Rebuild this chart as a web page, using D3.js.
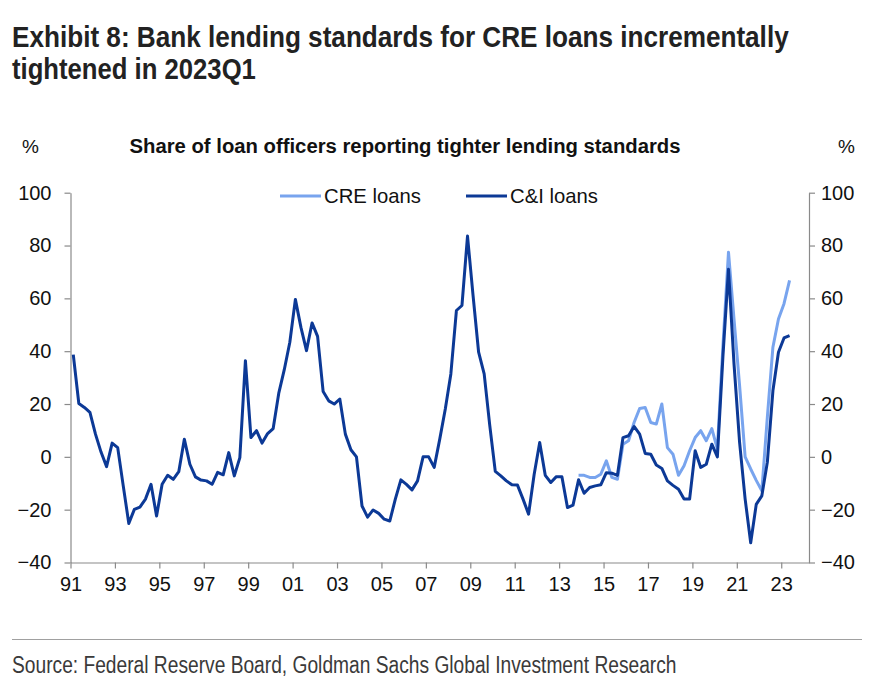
<!DOCTYPE html>
<html>
<head>
<meta charset="utf-8">
<script src="https://cdn.jsdelivr.net/npm/d3@7"></script>
<style>
  body { margin: 0; background: #fff; }
  text { font-family: "Liberation Sans", Arial, sans-serif; }
</style>
</head>
<body>
<svg id="chart" width="872" height="696"></svg>
<script>
// quarterly, 1991Q1 .. 2023Q2, net % of loan officers tightening
const ciLoans = [
  38.7, 20.2, 18.7, 16.8, 8.6, 1.8, -3.7, 5.2, 3.5, -11,
  -25.2, -19.9, -19, -16, -10.4, -22.4, -10.4, -7, -8.5, -5.6,
  6.7, -2.8, -7.6, -8.8, -9.1, -10.4, -5.9, -6.8, 1.6, -7.2,
  -0.3, 36.4, 7.3, 9.9, 5.2, 8.8, 10.7, 24, 33, 43.4,
  59.6, 49, 40.2, 50.7, 45.6, 24.7, 21.2, 20, 21.9, 8.6,
  2.7, 0, -18.6, -22.8, -20.1, -21.4, -23.6, -24.3, -16, -8.7,
  -10.4, -12.5, -9.1, 0, 0, -4, 6.7, 18.1, 31.4, 55.4,
  57.3, 83.6, 61, 39.6, 31.4, 12, -5.5, -7.2, -9.1, -10.6,
  -10.7, -16, -21.7, -6.7, 5.4, -7, -9.7, -7.5, -7.5, -19.2,
  -18.3, -8.7, -13.8, -11.6, -11, -10.6, -6, -6.2, -7, 7.3,
  8, 11.5, 8.6, 1.3, 1, -3.1, -4.4, -9.1, -10.8, -12.3,
  -16, -16, 2.3, -4, -2.8, 4.8, 0, 38, 71, 35,
  5.5, -16, -32.5, -18, -14.8, -2, 25, 39.6, 45, 45.9
];
// starts 2013Q4
const creStartIndex = 91;
const creLoans = [
  -7, -7, -7.8, -7.8, -6.6, -1.5, -7.8, -8.5, 4.8, 6.1,
  13, 18.3, 18.7, 13, 12.4, 20, 3.5, 1, -7, -3.4,
  2.3, 7.3, 9.9, 6.1, 10.7, 2.9, 42, 77.5, 52, 27,
  0, -4.6, -8.9, -12.9, 15, 41.5, 52.2, 58, 66.8
];
const yTicks = [-40, -20, 0, 20, 40, 60, 80, 100];
const xTicks = d3.range(1991, 2024, 2);
const seriesNames = ["CRE loans", "C&I loans"];
const seriesColors = ["#78a4ee", "#0c3996"];

const quarterTime = i => 1991 + i * 0.25 + 0.125;

const svg = d3.select("#chart");
const axisColor = "#8a8a8a";

const x = d3.scaleLinear().domain([1991, 2024.25]).range([70.5, 809]);
const y = d3.scaleLinear().domain([-40, 100]).range([562.5, 192.7]);

// squeeze a text horizontally to a width (no narrow font installed)
function fitText(sel, px, py, width) {
  const w = sel.node().getComputedTextLength();
  sel.attr("transform", `translate(${px},${py}) scale(${Math.min(1, width / w)},1)`);
  return sel;
}

// title
fitText(svg.append("text")
  .attr("font-size", 29).attr("font-weight", "bold").attr("fill", "#222")
  .text("Exhibit 8: Bank lending standards for CRE loans incrementally"), 12, 46.5, 777);
fitText(svg.append("text")
  .attr("font-size", 29).attr("font-weight", "bold").attr("fill", "#222")
  .text("tightened in 2023Q1"), 12, 78.5, 244);

// unit labels and subtitle
svg.append("text").attr("x", 22).attr("y", 153)
  .attr("font-size", 19).attr("fill", "#111").text("%");
svg.append("text").attr("x", 838).attr("y", 153)
  .attr("font-size", 19).attr("fill", "#111").text("%");
svg.append("text").attr("x", 405).attr("y", 153)
  .attr("text-anchor", "middle")
  .attr("font-size", 20.3).attr("font-weight", "bold").attr("fill", "#111")
  .text("Share of loan officers reporting tighter lending standards");

// axes
function styleAxis(g) {
  g.selectAll("path, line").attr("stroke", axisColor).attr("stroke-width", 1.2);
  g.selectAll("text").attr("font-family", null).attr("font-size", 20).attr("fill", "#111");
}

svg.append("g").attr("transform", "translate(70.5,0)")
  .call(d3.axisLeft(y).tickValues(yTicks).tickSize(6).tickSizeOuter(0).tickPadding(13))
  .call(styleAxis);

svg.append("g").attr("transform", "translate(809,0)")
  .call(d3.axisRight(y).tickValues(yTicks).tickSize(6).tickSizeOuter(0).tickPadding(6))
  .call(styleAxis);

svg.append("g").attr("transform", "translate(0,562.5)")
  .call(d3.axisBottom(x).tickValues(xTicks).tickSize(6).tickSizeOuter(0).tickPadding(8)
    .tickFormat(d => String(d % 100).padStart(2, "0")))
  .call(styleAxis);

// lines
const line = d3.line().x(d => x(d.t)).y(d => y(d.v));
const ciData = ciLoans.map((v, i) => ({ t: quarterTime(i), v }));
const creData = creLoans.map((v, i) => ({ t: quarterTime(creStartIndex + i), v }));

svg.append("path").datum(creData)
  .attr("fill", "none").attr("stroke", seriesColors[0]).attr("stroke-width", 3)
  .attr("stroke-linejoin", "round").attr("d", line);
svg.append("path").datum(ciData)
  .attr("fill", "none").attr("stroke", seriesColors[1]).attr("stroke-width", 3)
  .attr("stroke-linejoin", "round").attr("d", line);

// legend
const legendX = [280, 466];
seriesNames.forEach((name, k) => {
  const g = svg.append("g").attr("transform", `translate(${legendX[k]},196)`);
  g.append("line").attr("x1", 0).attr("x2", 41).attr("y1", 0).attr("y2", 0)
    .attr("stroke", seriesColors[k]).attr("stroke-width", 3);
  g.append("text").attr("x", 44).attr("y", 7)
    .attr("font-size", 20.3).attr("fill", "#111").text(name);
});

// footer
svg.append("line").attr("x1", 12).attr("x2", 862).attr("y1", 639.5).attr("y2", 639.5)
  .attr("stroke", "#a0a0a0").attr("stroke-width", 1);
fitText(svg.append("text")
  .attr("font-size", 23).attr("fill", "#3a3a3a")
  .text("Source: Federal Reserve Board, Goldman Sachs Global Investment Research"), 12, 673, 665);
</script>
</body>
</html>
